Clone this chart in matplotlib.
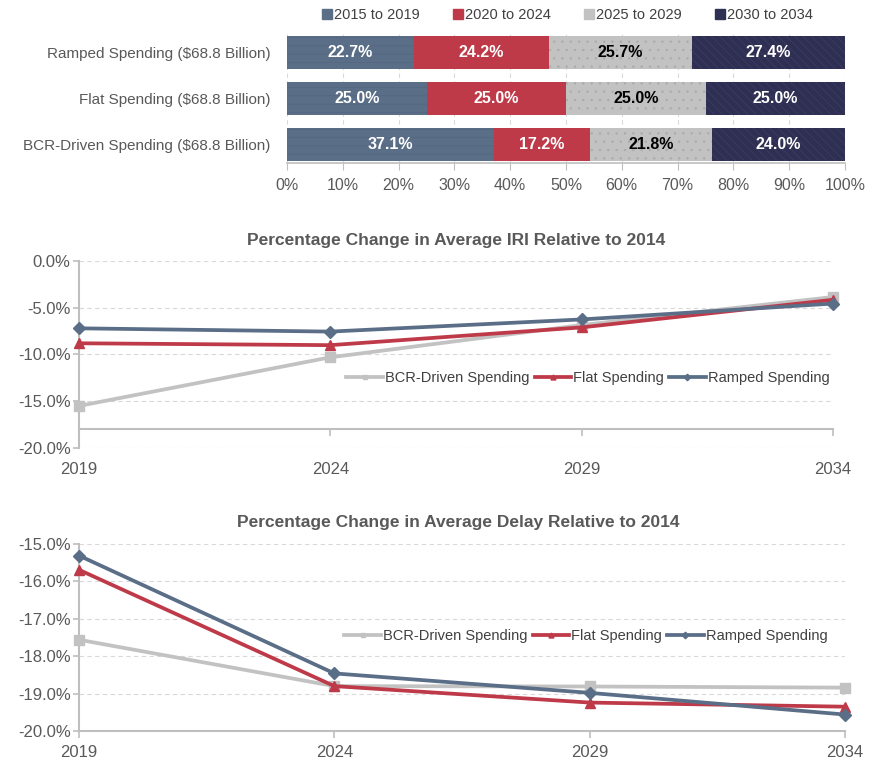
import matplotlib
matplotlib.use("Agg")
import matplotlib.pyplot as plt
import numpy as np
from matplotlib.lines import Line2D

plt.rcParams['font.family'] = ['Liberation Sans', 'DejaVu Sans']
plt.rcParams['hatch.linewidth'] = 0.5

# ---------------- data ----------------
scenarios = ["Ramped Spending ($68.8 Billion)",
             "Flat Spending ($68.8 Billion)",
             "BCR-Driven Spending ($68.8 Billion)"]
periods = ["2015 to 2019", "2020 to 2024", "2025 to 2029", "2030 to 2034"]
share_2015_2019 = [22.7, 25.0, 37.1]
share_2020_2024 = [24.2, 25.0, 17.2]
share_2025_2029 = [25.7, 25.0, 21.8]
share_2030_2034 = [27.4, 25.0, 24.0]
bar_ticks = [0, 10, 20, 30, 40, 50, 60, 70, 80, 90, 100]

years = [2019, 2024, 2029, 2034]
series_names = ["BCR-Driven Spending", "Flat Spending", "Ramped Spending"]
iri_bcr = [-15.5, -10.3, -6.85, -3.85]
iri_flat = [-8.8, -9.0, -7.1, -4.15]
iri_ramped = [-7.2, -7.55, -6.25, -4.55]
delay_bcr = [-17.56, -18.80, -18.81, -18.84]
delay_flat = [-15.69, -18.80, -19.24, -19.35]
delay_ramped = [-15.31, -18.46, -18.98, -19.56]
iri_yticks = [0, -5, -10, -15, -20]
delay_yticks = [-15, -16, -17, -18, -19, -20]

# ---------------- style ----------------
C_BLUE = "#5B6E88"
C_RED = "#BE3A48"
C_GREY = "#C2C2C2"
C_NAVY = "#2E2F52"
TXT = "#595959"
AX = "#BFBFBF"
GRID = "#D9D9D9"

W, H = 876, 767
fig = plt.figure(figsize=(W / 100, H / 100), dpi=100)

def rect(l, t, r, b):
    return [l / W, 1 - b / H, (r - l) / W, (b - t) / H]

# ---------------- bar chart ----------------
axb = fig.add_axes(rect(287, 32, 845, 163))
shares = [share_2015_2019, share_2020_2024, share_2025_2029, share_2030_2034]
colors = [C_BLUE, C_RED, C_GREY, C_NAVY]
hatch_cols = ["#54667E", C_RED, "#ABABAB", "#3C3E66"]
hatches = ["--", None, "..", "\\\\\\\\"]
txtcols = ["white", "white", "black", "white"]
ypos = np.arange(len(scenarios))
left = np.zeros(len(scenarios))
for k in range(4):
    vals = np.array(shares[k])
    axb.barh(ypos, vals, left=left, height=0.72, color=colors[k],
             edgecolor=hatch_cols[k], linewidth=0, hatch=hatches[k],
             label=periods[k], zorder=3)
    for y, v, l0 in zip(ypos, vals, left):
        axb.text(l0 + v / 2, y, f"{v:.1f}%", ha="center", va="center",
                 color=txtcols[k], fontsize=11.5, fontweight="bold", zorder=4)
    left = left + vals
axb.set_xlim(0, 100)
axb.set_ylim(2.4, -0.45)
axb.set_yticks(ypos)
axb.set_yticklabels(scenarios, fontsize=11, color=TXT)
axb.set_xticks(bar_ticks)
axb.set_xticklabels([f"{t}%" for t in bar_ticks], fontsize=11.5, color=TXT)
axb.tick_params(axis="y", length=0, pad=12)
axb.tick_params(axis="x", length=5, color=AX, pad=6)
for s in ["top", "right", "left"]:
    axb.spines[s].set_visible(False)
axb.spines["bottom"].set_color(AX)
axb.spines["bottom"].set_linewidth(1.2)
axb.grid(axis="x", color=GRID, linestyle=(0, (4, 3)), linewidth=0.8, zorder=0)
axb.set_axisbelow(True)

leg_handles = [Line2D([], [], marker="s", linestyle="none", markersize=6.5,
                      markerfacecolor=c, markeredgecolor=c) for c in colors]
fig.legend(leg_handles, periods, loc="center", ncol=4,
           bbox_to_anchor=(566 / W, 1 - 15 / H), frameon=False,
           fontsize=10.5, handletextpad=0.0, columnspacing=2.1,
           handlelength=1.0, labelcolor="#404040")

# ---------------- line charts ----------------
def line_chart(box, ylim, yticks, data, title, title_xy, bottom_at, leg_xy):
    ax = fig.add_axes(rect(*box))
    for s in ["top", "right"]:
        ax.spines[s].set_visible(False)
    pad = 5
    if bottom_at is not None:
        ax.spines["bottom"].set_position(("data", bottom_at))
        pxs = (bottom_at - ylim[0]) / (ylim[1] - ylim[0]) * (box[3] - box[1])
        pad = pxs * 0.72 + 5
    styles = [(C_GREY, "s"), (C_RED, "^"), (C_BLUE, "D")]
    for (c, m), vals, name in zip(styles, data, series_names):
        ax.plot(years, vals, color=c, linewidth=2.7, marker=m,
                markersize=6.5 if m != "D" else 6, markerfacecolor=c,
                markeredgecolor=c, label=name, clip_on=False, zorder=3)
    ax.set_xlim(years[0], years[-1])
    ax.set_ylim(*ylim)
    ax.set_yticks(yticks)
    ax.set_yticklabels([f"{t:.1f}%" for t in yticks], fontsize=12, color=TXT)
    ax.set_xticks(years)
    ax.set_xticklabels([str(y) for y in years], fontsize=12, color=TXT)
    ax.grid(axis="y", color=GRID, linestyle=(0, (4, 3)), linewidth=0.8, zorder=0)
    ax.spines["left"].set_color(AX)
    ax.spines["left"].set_linewidth(1.5)
    ax.spines["bottom"].set_color(AX)
    ax.spines["bottom"].set_linewidth(1.5)
    ax.tick_params(axis="y", length=4, color=AX, width=1.2, pad=2)
    ax.tick_params(axis="x", length=5, color=AX, width=1.2, pad=pad)
    fig.text(title_xy[0] / W, 1 - title_xy[1] / H, title, ha="center", va="center",
             fontsize=12.5, fontweight="bold", color=TXT)
    ax.legend(loc="center", bbox_to_anchor=((leg_xy[0] - box[0]) / (box[2] - box[0]),
                                            (box[3] - leg_xy[1]) / (box[3] - box[1])),
              ncol=3, frameon=False, fontsize=10.5, handlelength=2.5,
              handletextpad=0.15, columnspacing=0.35, markerscale=0.55,
              labelcolor="#404040")
    return ax

line_chart((79, 261, 833, 448), (-20, 0), iri_yticks,
           [iri_bcr, iri_flat, iri_ramped],
           "Percentage Change in Average IRI Relative to 2014", (456, 240),
           -18, (588, 378))
line_chart((79, 544, 845, 731), (-20, -15), delay_yticks,
           [delay_bcr, delay_flat, delay_ramped],
           "Percentage Change in Average Delay Relative to 2014", (458, 522),
           None, (586, 636))

fig.savefig("out.png", dpi=100)
